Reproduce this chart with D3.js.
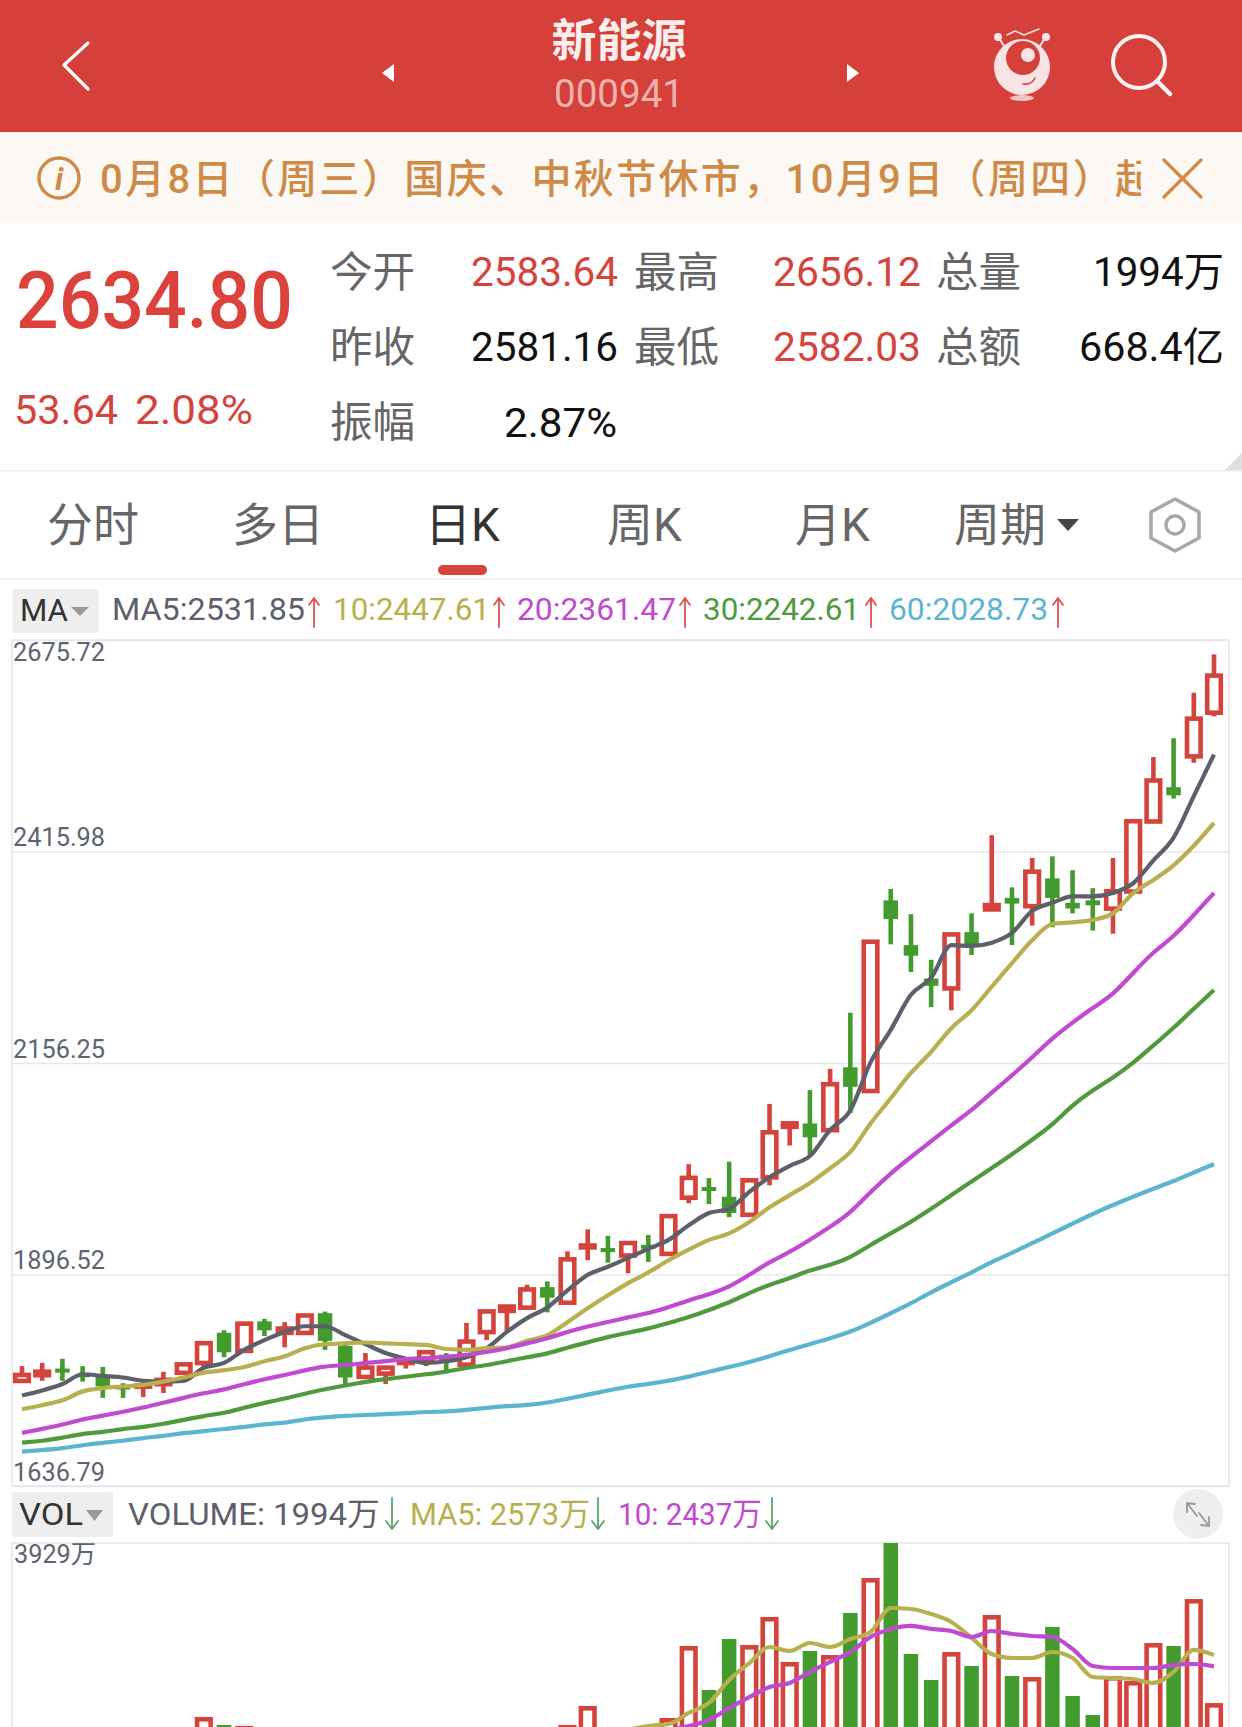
<!DOCTYPE html>
<html><head><meta charset="utf-8">
<script src="https://cdn.jsdelivr.net/npm/d3@7/dist/d3.min.js"></script>
<style>html,body{margin:0;padding:0;background:#fff;overflow:hidden}svg{display:block}
text{font-family:Roboto,"Noto Sans CJK SC",sans-serif}</style></head><body>
<svg id="c" width="1242" height="1727" viewBox="0 0 1242 1727"></svg>
<script>
const opens=[1763,1770,1781,1774,1771,1759,1756,1759,1773,1785,1825,1800,1839,1822,1822,1849,1809,1768,1772,1785,1787,1798,1783,1823,1849,1853,1881,1859,1927,1929,1917,1933,1919,1988,2004,1992,1967,2013,2075,2082,2071,2151,2119,2356,2301,2260,2245,2317,2342,2359,2346,2383,2353,2356,2343,2364,2450,2495,2530,2583.64];
const closes=[1776,1780,1776,1771,1759,1756,1763,1770,1789,1815,1801,1839,1828,1833,1849,1815,1770,1785,1785,1794,1804,1789,1817,1854,1860,1881,1868,1918,1935,1924,1938,1928,1971,2018,1999,1972,2015,2074,2085,2065,2133,2127,2308,2333,2288,2251,2317,2301,2353,2352,2394,2359,2346,2350,2370,2456,2506,2485,2582,2634.80];
const highs=[1784,1788,1793,1784,1783,1763,1765,1777,1789,1815,1828,1839,1842,1838,1849,1851,1813,1800,1785,1795,1804,1800,1837,1854,1860,1884,1888,1925,1952,1944,1938,1945,1971,2032,2015,2035,2015,2106,2085,2123,2149,2218,2308,2370,2339,2283,2317,2340,2436,2372,2408,2410,2393,2371,2408,2456,2532,2555,2611,2658];
const lows=[1763,1766,1766,1765,1745,1745,1746,1751,1773,1783,1795,1800,1821,1807,1822,1804,1761,1768,1762,1781,1784,1776,1783,1816,1826,1853,1850,1859,1914,1911,1898,1912,1919,1984,1983,1967,1967,2006,2055,2042,2071,2095,2119,2302,2268,2225,2221,2289,2342,2301,2325,2323,2340,2319,2315,2364,2450,2481,2525,2582.03];
const ma5=[1748,1754,1762,1774,1772,1770,1766,1765,1766,1782,1788,1804,1816,1826,1833,1833,1822,1811,1800,1793,1788,1790,1795,1806,1826,1843,1856,1877,1896,1906,1917,1928,1939,1957,1972,1977,1998,2016,2030,2042,2074,2098,2157,2197,2240,2261,2301,2300,2304,2316,2343,2353,2361,2361,2365,2377,2405,2433,2484,2535];
const ma10=[1731,1736,1742,1753,1757,1759,1761,1765,1770,1776,1779,1783,1790,1796,1806,1811,1812,1813,1812,1811,1810,1805,1804,1806,1807,1815,1822,1838,1855,1871,1886,1899,1914,1927,1939,1947,1961,1979,1994,2009,2027,2047,2082,2113,2144,2170,2199,2221,2250,2279,2307,2327,2329,2332,2340,2365,2381,2399,2423,2451];
const ma20=[1702,1707,1712,1719,1723,1728,1733,1739,1745,1751,1755,1762,1768,1773,1779,1784,1785,1788,1790,1793,1794,1795,1798,1801,1806,1812,1818,1826,1833,1838,1844,1849,1856,1865,1872,1881,1896,1912,1924,1939,1955,1972,1998,2021,2041,2060,2080,2098,2120,2141,2163,2187,2206,2224,2240,2267,2293,2311,2338,2365];
const ma30=[1690,1692,1696,1701,1703,1707,1709,1713,1718,1723,1726,1733,1739,1744,1750,1756,1760,1765,1768,1771,1774,1777,1782,1785,1790,1795,1799,1807,1813,1820,1825,1830,1837,1844,1853,1862,1874,1884,1892,1902,1908,1917,1933,1947,1961,1977,1994,2011,2027,2044,2062,2080,2105,2123,2138,2156,2178,2199,2223,2246];
const ma60=[1679,1681,1683,1687,1690,1692,1696,1698,1702,1704,1707,1709,1713,1714,1719,1721,1723,1724,1725,1726,1728,1728,1730,1733,1735,1736,1739,1744,1749,1754,1759,1762,1766,1771,1777,1783,1789,1796,1804,1811,1818,1826,1837,1849,1861,1875,1887,1899,1912,1923,1935,1947,1959,1971,1982,1992,2002,2011,2022,2032];
const volumes=[1250,1180,1100,1000,1230,950,1120,1100,1500,1826,1729,1717,1300,1450,1400,1600,1650,1350,1050,1200,1300,1150,1600,1500,1400,1300,1250,1729,1959,1650,1620,1640,1814,2684,2152,2769,2696,3035,2491,2624,2575,3083,3506,3929,2587,2273,2611,2442,3059,2321,2309,2914,2079,1850,2321,2261,2720,2684,3252,1994];
const volMa5=[1150,1160,1130,1110,1130,1100,1090,1090,1170,1290,1400,1520,1610,1590,1530,1520,1430,1380,1300,1290,1280,1290,1300,1320,1360,1340,1290,1420,1530,1590,1670,1717,1741,1874,1995,2273,2478,2672,2624,2720,2672,2769,2853,3143,3131,3071,2974,2781,2587,2539,2539,2611,2539,2309,2297,2285,2237,2370,2636,2573];
const volMa10=[1150,1150,1150,1140,1140,1130,1130,1120,1140,1180,1250,1330,1350,1350,1340,1350,1420,1450,1460,1440,1400,1350,1340,1310,1310,1310,1300,1350,1420,1450,1500,1600,1660,1717,1789,1934,2067,2188,2237,2370,2491,2611,2793,2890,2926,2890,2865,2793,2865,2829,2805,2793,2648,2442,2418,2418,2418,2454,2466,2437];
const priceTicks=[2675.72,2415.98,2156.25,1896.52,1636.79];
const tabs=["分时","多日","日K","周K","月K","周期"];

const RED="#d4443c",GREEN="#439a2d",HEAD="#d5403a",ORANGE="#cf8a48",LABEL="#666",
      AXIS="#5c6470",GRID="#e6e6e6",C5="#5d5f6b",C10="#b8af4e",C20="#c04ad0",C30="#4f9a3d",C60="#5cb5d0";
const svg=d3.select("#c");
function T(s,x,y,size,fill,o={}){
  const t=svg.append("text").attr("x",x).attr("y",y).attr("font-size",size).attr("fill",fill).text(s);
  if(o.anchor)t.attr("text-anchor",o.anchor);
  if(o.weight)t.attr("font-weight",o.weight);
  if(o.len){t.attr("textLength",o.len).attr("lengthAdjust",o.adj||"spacingAndGlyphs");}
  return t;
}
function P(d,stroke,w,fill){return svg.append("path").attr("d",d).attr("stroke",stroke||"none").attr("stroke-width",w||0).attr("fill",fill||"none").attr("stroke-linecap","round").attr("stroke-linejoin","round");}
function R(x,y,w,h,fill,rx){return svg.append("rect").attr("x",x).attr("y",y).attr("width",w).attr("height",h).attr("fill",fill).attr("rx",rx||0);}

// header
R(0,0,1242,132,HEAD);
T("新能源",619,57,45,"#fbeeed",{anchor:"middle",weight:700});
T("000941",619,107,38,"#efb3ae",{anchor:"middle",len:130});
P("M88 43L64 65L88 89","#fff",3.2);
P("M394 64L382 73L394 82Z",null,0,"#fff");
P("M847 64L859 73L847 82Z",null,0,"#fff");
// mascot
svg.append("circle").attr("cx",1022).attr("cy",67).attr("r",28).attr("fill","#f8e4e4");
svg.append("circle").attr("cx",1023).attr("cy",58).attr("r",17).attr("fill",HEAD);
svg.append("circle").attr("cx",1028).attr("cy",55).attr("r",7).attr("fill","#f8e4e4");
svg.append("circle").attr("cx",998).attr("cy",37).attr("r",4).attr("fill","#f8e4e4");
svg.append("circle").attr("cx",1046).attr("cy",37).attr("r",4).attr("fill","#f8e4e4");
P("M999 38L1004 46M1045 38L1040 46","#f8e4e4",2);
P("M1007 35L1015 31L1024 35L1039 29","#f8e4e4",1.5);
P("M1023 84Q1032 85 1035 78",HEAD,1.5);
svg.append("ellipse").attr("cx",1022).attr("cy",98).attr("rx",12).attr("ry",3).attr("fill","#f3c5c2");
// search
svg.append("circle").attr("cx",1139).attr("cy",62).attr("r",26).attr("fill","none").attr("stroke","#fdf3f2").attr("stroke-width",4);
P("M1158 82L1170 94","#fdf3f2",4.5);

// notice
R(0,132,1242,91,"#fcf9f4");
svg.append("circle").attr("cx",59).attr("cy",178).attr("r",20).attr("fill","none").attr("stroke",ORANGE).attr("stroke-width",3.4);
T("i",59,190,32,ORANGE,{anchor:"middle",weight:700}).attr("font-style","italic").attr("font-family","DejaVu Serif");
svg.append("clipPath").attr("id","nc").append("rect").attr("x",90).attr("y",132).attr("width",1051).attr("height",91);
svg.append("g").attr("clip-path","url(#nc)").append("text").attr("x",100).attr("y",193).attr("font-size",40).attr("font-weight",500).attr("fill",ORANGE)
  .attr("textLength",1055).attr("lengthAdjust","spacing").text("0月8日（周三）国庆、中秋节休市，10月9日（周四）起");
P("M1164 160L1201 197M1201 160L1164 197","#d58a45",3.4);

// quote
T("2634.80",16,328,80,"#dc423c",{weight:500,len:277});
T("53.64",14,424,41,RED,{len:104});
T("2.08%",135,424,41,RED,{len:118});
T("今开",330,287,42.5,LABEL);T("昨收",330,362,42.5,LABEL);T("振幅",330,437,42.5,LABEL);
T("最高",634,287,42.5,LABEL);T("最低",634,362,42.5,LABEL);
T("总量",936,287,42.5,LABEL);T("总额",936,362,42.5,LABEL);
T("2583.64",471,286,40,RED,{len:147});
T("2581.16",471,361,40,"#111",{len:147});
T("2.87%",504,437,40,"#111",{len:113});
T("2656.12",773,286,40,RED,{len:148});
T("2582.03",773,361,40,RED,{len:148});
T("1994万",1224,286,40,"#111",{anchor:"end",len:131});
T("668.4亿",1224,361,40,"#111",{anchor:"end",len:145});
P("M1242 453L1242 471L1224 471Z",null,0,"#dedede");
R(0,470,1242,1.5,"#eeeeee");

// tabs
const tabX=[47,232,425,607,795,954];
tabs.forEach((s,i)=>T(s,tabX[i],541,46,i===2?"#333":LABEL));
P("M1057 519L1079 519L1068 531Z",null,0,"#444");
P("M1175 499L1199 512L1199 538L1175 551L1151 538L1151 512Z","#a8a8a8",3.6);
svg.append("circle").attr("cx",1175).attr("cy",525).attr("r",9).attr("fill","none").attr("stroke","#a8a8a8").attr("stroke-width",3.4);
R(438,565,49,10,RED,5);
R(0,578,1242,1.5,"#eeeeee");

// MA legend
R(12.5,589,86,44,"#eeeeee",2);
T("MA",20,621,32,"#333",{len:48});
P("M71 607L89 607L80 616Z",null,0,"#999");
function up(x,y0,y1,c){P(`M${x} ${y1}L${x} ${y0}M${x-5} ${y0+7}L${x} ${y0}L${x+5} ${y0+7}`,c,1.8);}
function dn(x,y0,y1,c){P(`M${x} ${y0}L${x} ${y1}M${x-6} ${y1-8}L${x} ${y1}L${x+6} ${y1-8}`,c,1.8);}
const legend=[["MA5:2531.85",112,193,C5,314],["10:2447.61",333,157,C10,499],["20:2361.47",517,159,C20,685],["30:2242.61",703,157,C30,871],["60:2028.73",889,159,C60,1058]];
legend.forEach(l=>{T(l[0],l[1],620,31.5,l[3],{len:l[2]});up(l[4],598,627,"#d9534f");});

// price panel
const x=d3.scaleLinear().domain([0,59]).range([22,1214]);
const y=d3.scaleLinear().domain([1636.79,2675.72]).range([1486,640]);
const axis=svg.append("g").attr("transform","translate(12,0)").call(d3.axisRight(y).tickValues(priceTicks).tickSize(1217).tickFormat(d3.format(".2f")));
axis.select(".domain").remove();
axis.selectAll("line").attr("stroke",GRID).attr("stroke-width",1.4);
axis.selectAll("text").attr("x",1).attr("dy",null).attr("font-size",25.5).attr("fill",AXIS).attr("font-family","Roboto")
  .attr("y",d=>d===priceTicks[0]?20:-6).attr("textLength",92).attr("lengthAdjust","spacingAndGlyphs");
svg.append("rect").attr("x",12).attr("y",640).attr("width",1217).attr("height",846).attr("fill","none").attr("stroke",GRID).attr("stroke-width",1.6);

const idx=d3.range(opens.length);
const isUp=i=>closes[i]>=opens[i];
const BW=13.6,SW=4.6,GW=14.5;
const cg=svg.append("g");
idx.forEach(i=>{
  const cx=x(i),c=isUp(i)?RED:GREEN,t=y(Math.max(opens[i],closes[i])),b=y(Math.min(opens[i],closes[i]));
  if(isUp(i)){
    if(y(highs[i])<t)cg.append("rect").attr("x",cx-2.3).attr("width",4.6).attr("y",y(highs[i])).attr("height",t-y(highs[i])+2).attr("fill",c);
    if(y(lows[i])>b)cg.append("rect").attr("x",cx-2.3).attr("width",4.6).attr("y",b-2).attr("height",y(lows[i])-b+2).attr("fill",c);
    cg.append("rect").attr("x",cx-BW/2).attr("width",BW).attr("y",t+SW/2).attr("height",Math.max(b-t-SW,0))
      .attr("fill","#fff").attr("stroke",c).attr("stroke-width",SW);
  }else{
    cg.append("rect").attr("x",cx-2.3).attr("width",4.6).attr("y",y(highs[i])).attr("height",y(lows[i])-y(highs[i])).attr("fill",c);
    cg.append("rect").attr("x",cx-GW/2).attr("width",GW).attr("y",t).attr("height",Math.max(b-t,3)).attr("fill",c);
  }
});
const ln=(c)=>d3.line().x((d,i)=>x(i)).y(d=>y(d)).curve(c);
[[ma5,C5,d3.curveMonotoneX],[ma10,C10,d3.curveMonotoneX],[ma20,C20,d3.curveBasis],[ma30,C30,d3.curveBasis],[ma60,C60,d3.curveBasis]].forEach(s=>{
  svg.append("path").attr("d",ln(s[2])(s[0])).attr("fill","none").attr("stroke",s[1]).attr("stroke-width",4.2).attr("stroke-linejoin","round");
});

// volume legend
R(12,1492,101,45,"#eeeeee",2);
T("VOL",19,1525,32,"#333",{len:64});
P("M86 1510L103 1510L94.5 1521Z",null,0,"#999");
T("VOLUME: 1994万",128,1525,32,C5,{len:252});
dn(392,1498,1529,"#5aa66a");
T("MA5: 2573万",410,1525,32,C10,{len:180});
dn(598,1498,1529,"#5aa66a");
T("10: 2437万",618,1525,32,C20,{len:144});
dn(772,1498,1529,"#5aa66a");
svg.append("ellipse").attr("cx",1198).attr("cy",1514).attr("rx",25).attr("ry",25).attr("fill","#eeeeee");
P("M1187 1503L1187 1512M1187 1503L1195 1504M1187 1503L1197 1516M1209 1526L1209 1517M1209 1526L1201 1525M1209 1526L1199 1513","#9a9a9a",1.8);

// volume panel
const vy=d3.scaleLinear().domain([0,3929]).range([1868,1543]);
svg.append("rect").attr("x",12).attr("y",1543).attr("width",1217).attr("height",400).attr("fill","none").attr("stroke",GRID).attr("stroke-width",1.6);
T("3929万",14,1563,25.5,AXIS,{len:82});
const vg=svg.append("g");
idx.forEach(i=>{
  const cx=x(i),t=vy(volumes[i]);
  if(isUp(i)){
    vg.append("rect").attr("x",cx-BW/2).attr("width",BW).attr("y",t+SW/2).attr("height",vy(0)-t).attr("fill","#fff").attr("stroke",RED).attr("stroke-width",SW);
  }else{
    vg.append("rect").attr("x",cx-GW/2).attr("width",GW).attr("y",t).attr("height",vy(0)-t).attr("fill",GREEN);
  }
});
[[volMa5,C10],[volMa10,C20]].forEach(s=>{
  const l=d3.line().x((d,i)=>x(i)).y(d=>vy(d)).curve(d3.curveMonotoneX);
  svg.append("path").attr("d",l(s[0])).attr("fill","none").attr("stroke",s[1]).attr("stroke-width",4.2).attr("stroke-linejoin","round");
});
</script></body></html>
